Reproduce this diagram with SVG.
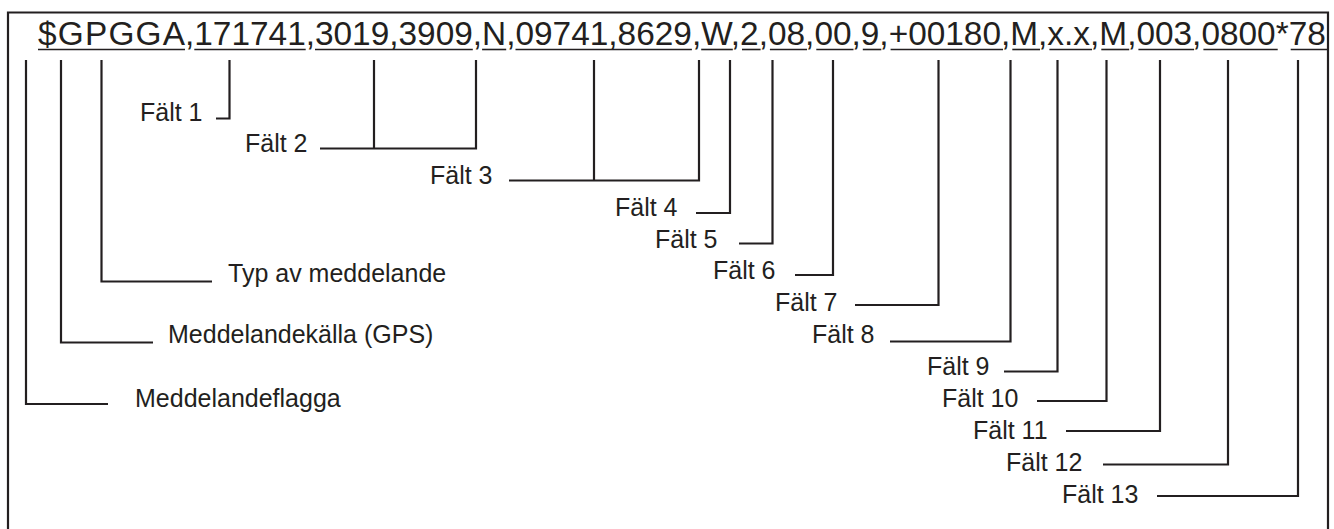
<svg xmlns="http://www.w3.org/2000/svg" width="1334" height="529" viewBox="0 0 1334 529">
  <style>
    .frame { fill: none; stroke: #231f20; stroke-width: 2.2; }
    .sentence { font-family: "Liberation Sans", Arial, sans-serif; font-size: 33.4px; fill: #231f20; }
    .uline { stroke: #231f20; stroke-width: 1.6; }
    .label { font-family: "Liberation Sans", Arial, sans-serif; font-size: 25px; fill: #231f20; }
    .lead { fill: none; stroke: #231f20; stroke-width: 2.2; }
  </style>
  <rect width="1334" height="529" fill="#ffffff"/>

  <!-- NMEA sentence -->
  <g id="sentence">
    <text class="sentence" x="38" y="45" textLength="147" lengthAdjust="spacing">$GPGGA</text>
    <text class="sentence" x="185" y="45">,171741,3019,3909,N,09741,8629,W,2,08,00,9,+00180,M,x.x,M,003,0800*78</text>
    <g class="uline">
      <line x1="38" y1="49.5" x2="185" y2="49.5"/>
      <line x1="194.3" y1="49.5" x2="305.7" y2="49.5"/>
      <line x1="315" y1="49.5" x2="472.8" y2="49.5"/>
      <line x1="482.1" y1="49.5" x2="506.2" y2="49.5"/>
      <line x1="515.5" y1="49.5" x2="691.9" y2="49.5"/>
      <line x1="701.2" y1="49.5" x2="732.8" y2="49.5"/>
      <line x1="742" y1="49.5" x2="760.6" y2="49.5"/>
      <line x1="769.9" y1="49.5" x2="807" y2="49.5"/>
      <line x1="816.3" y1="49.5" x2="853.5" y2="49.5"/>
      <line x1="862.8" y1="49.5" x2="881.3" y2="49.5"/>
      <line x1="890.6" y1="49.5" x2="1003" y2="49.5"/>
      <line x1="1012.3" y1="49.5" x2="1040" y2="49.5"/>
      <line x1="1049.4" y1="49.5" x2="1092" y2="49.5"/>
      <line x1="1101.3" y1="49.5" x2="1129.2" y2="49.5"/>
      <line x1="1138.4" y1="49.5" x2="1194.1" y2="49.5"/>
      <line x1="1203.4" y1="49.5" x2="1277.7" y2="49.5"/>
      <line x1="1290.7" y1="49.5" x2="1327" y2="49.5"/>
    </g>
  </g>

  <!-- outer frame, open at the bottom edge -->
  <path class="frame" d="M8,540 V12.5 H1328 V540"/>

  <!-- leader lines from each field down to its label -->
  <g id="connectors" class="lead">
    <path d="M26,60 V404 H108"/>
    <path d="M61,60 V342.5 H153"/>
    <path d="M101.5,60 V281.5 H212"/>
    <path d="M229.5,60 V118.5 H216"/>
    <path d="M374,60 V148.5 M476,60 V148.5 H320"/>
    <path d="M594,60 V180.5 M699,60 V180.5 H509"/>
    <path d="M730,60 V213 H696"/>
    <path d="M772.5,60 V243.5 H739"/>
    <path d="M833,60 V275 H795"/>
    <path d="M938.5,60 V305 H855"/>
    <path d="M1010.5,60 V341.5 H890"/>
    <path d="M1057.5,60 V371.5 H1004"/>
    <path d="M1106.5,60 V401 H1037"/>
    <path d="M1160,60 V431 H1066"/>
    <path d="M1228,60 V464.5 H1103"/>
    <path d="M1298,60 V496 H1157"/>
  </g>

  <!-- labels -->
  <g id="flag"><text class="label" x="135" y="407">Meddelandeflagga</text></g>
  <g id="source"><text class="label" x="168" y="343">Meddelandekälla (GPS)</text></g>
  <g id="msgtype"><text class="label" x="228" y="282">Typ av meddelande</text></g>
  <g id="f1"><text class="label" x="140" y="121">Fält 1</text></g>
  <g id="f2"><text class="label" x="245" y="152">Fält 2</text></g>
  <g id="f3"><text class="label" x="430" y="184">Fält 3</text></g>
  <g id="f4"><text class="label" x="615" y="216">Fält 4</text></g>
  <g id="f5"><text class="label" x="655" y="248">Fält 5</text></g>
  <g id="f6"><text class="label" x="713" y="279">Fält 6</text></g>
  <g id="f7"><text class="label" x="775" y="311">Fält 7</text></g>
  <g id="f8"><text class="label" x="812" y="343">Fält 8</text></g>
  <g id="f9"><text class="label" x="927" y="375">Fält 9</text></g>
  <g id="f10"><text class="label" x="942" y="407">Fält 10</text></g>
  <g id="f11"><text class="label" x="973" y="439">Fält 11</text></g>
  <g id="f12"><text class="label" x="1006" y="471">Fält 12</text></g>
  <g id="f13"><text class="label" x="1062" y="503">Fält 13</text></g>
</svg>
